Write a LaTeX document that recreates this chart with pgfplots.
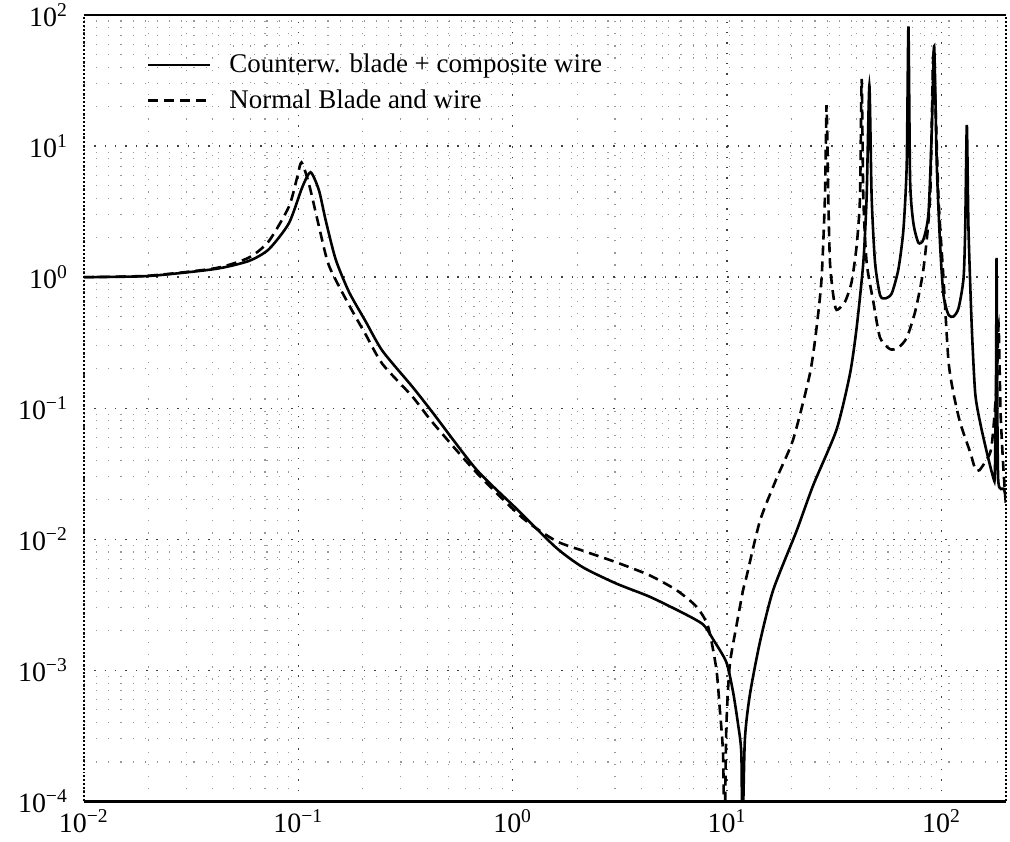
\documentclass[border=0pt]{standalone}
\usepackage{fontspec}
\setmainfont{Liberation Serif}
\usepackage{pgfplots}
\pgfplotsset{compat=1.18}
\begin{document}
\begin{tikzpicture}
\begin{axis}[
  scale only axis,
  width=462pt, height=394pt,
  xmode=log, ymode=log,
  xmin=0.01, xmax=200, ymin=1e-4, ymax=100,
  xtick={0.01,0.1,1,10,100},
  xticklabels={10\textsuperscript{−2},10\textsuperscript{−1},10\textsuperscript{0},10\textsuperscript{1},10\textsuperscript{2}},
  ytick={1e-4,1e-3,1e-2,1e-1,1,10,100},
  yticklabels={10\textsuperscript{−4},10\textsuperscript{−3},10\textsuperscript{−2},10\textsuperscript{−1},10\textsuperscript{0},10\textsuperscript{1},10\textsuperscript{2}},
  minor xtick={0.02,0.03,0.04,0.05,0.06,0.07,0.08,0.09,0.2,0.3,0.4,0.5,0.6,0.7,0.8,0.9,2,3,4,5,6,7,8,9,20,30,40,50,60,70,80,90},
  minor ytick={2e-4,3e-4,4e-4,5e-4,6e-4,7e-4,8e-4,9e-4,2e-3,3e-3,4e-3,5e-3,6e-3,7e-3,8e-3,9e-3,2e-2,3e-2,4e-2,5e-2,6e-2,7e-2,8e-2,9e-2,0.2,0.3,0.4,0.5,0.6,0.7,0.8,0.9,2,3,4,5,6,7,8,9,20,30,40,50,60,70,80,90},
  grid=both,
  major grid style={black!75, line width=0.7pt, dash pattern=on 0.7pt off 4.5pt},
  minor grid style={black!40, line width=0.55pt, dash pattern=on 0.6pt off 5.5pt},
  major tick length=0pt, minor tick length=0pt,
  separate axis lines,
  x axis line style={black, line width=1.2pt},
  y axis line style={black, densely dotted, line width=1pt},
  tick label style={font=\fontsize{14}{14}\selectfont},
  xticklabel style={yshift=-0.5pt},
  yticklabel style={xshift=-4.5pt},
  legend style={at={(axis description cs:0.068,0.956)}, anchor=north west, draw=none, fill=none,
    font=\fontsize{13.5}{16}\selectfont, row sep=3pt, inner sep=0pt},
  legend cell align=left,
  legend image code/.code={\draw[#1] (0pt,0pt) -- (31pt,0pt); \path (38pt,0pt);},
]
\addplot[black, line width=1.3pt, smooth, tension=0.4] coordinates {
(0.01,1.0) (0.02,1.02) (0.0411,1.155) (0.0589,1.33) (0.0729,1.63) (0.0905,2.58)
(0.1045,4.87) (0.1142,6.31) (0.1249,4.60) (0.1341,2.74) (0.1494,1.37) (0.1725,0.771)
(0.2063,0.459) (0.2469,0.274) (0.341,0.1455) (0.4228,0.093) (0.674,0.0344)
(1.036,0.01726) (1.593,0.00865) (2.124,0.00612) (3.039,0.00460) (4.352,0.00365)
(6.23,0.00274) (7.73,0.00224) (8.60,0.00173) (9.92,0.001156) (10.66,0.000688)
(11.26,0.000386) (11.66,0.000230) (11.79,0.00005) (12.10,0.000290) (12.77,0.000649)
(14.22,0.001633) (16.41,0.0041) (21.08,0.01155) (25.23,0.02588) (32.41,0.0687)
(37.44,0.183) (40.20,0.410) (43.20,1.295) (44.77,4.10) (46.10,29.0) (47.24,4.10)
(48.99,1.295) (51.7,0.729) (54.58,0.688) (58.6,0.75) (63.0,1.155) (66.45,2.30)
(68.86,7.28) (70.13,81.6) (71.42,5.47) (73.98,2.58) (78.06,1.83) (82.4,1.94)
(86.98,3.07) (90.1,12.97) (92.45,57.8) (95.06,7.28) (98.6,1.728) (102.2,0.729)
(107.8,0.516) (113.8,0.501) (120.1,0.579) (126.7,0.973) (129.0,2.30) (131.3,14.5)
(133.7,2.30) (138.5,0.410) (143.7,0.1296) (151.6,0.0772) (162.8,0.046) (175.0,0.029)
(177.5,0.032) (179.8,0.2) (180.7,1.4) (181.7,0.2) (184,0.028) (194.9,0.0243) (200,0.021)
};
\addlegendentry{Counterw. blade + composite wire}
\addplot[black, line width=1.3pt, dash pattern=on 5pt off 3pt, smooth, tension=0.4] coordinates {
(0.01,1.0) (0.02,1.025) (0.0411,1.17) (0.0589,1.41) (0.0729,1.88) (0.0905,3.45)
(0.0989,5.79) (0.1036,7.50) (0.1122,5.15) (0.1249,2.44) (0.1391,1.223) (0.1725,0.613)
(0.2063,0.365) (0.2469,0.2176) (0.341,0.1225) (0.4228,0.078) (0.674,0.0326)
(1.113,0.01453) (1.593,0.00972) (2.124,0.00818) (3.039,0.00668) (4.352,0.00531)
(5.80,0.0041) (7.19,0.00307) (8.15,0.00217) (8.91,0.00103) (9.24,0.000516)
(9.58,0.00023) (9.73,0.00005) (9.92,0.000365) (10.29,0.00109) (11.05,0.00217)
(11.88,0.0041) (12.31,0.00515) (14.22,0.01373) (17.0,0.029) (20.34,0.0578)
(24.34,0.183) (26.14,0.410) (27.59,0.973) (28.61,4.10) (29.11,20.5) (29.65,4.10)
(30.2,1.295) (31.28,0.729) (32.41,0.562) (35.48,0.649) (38.09,0.917) (40.2,1.728)
(41.69,4.10) (42.43,32.5) (43.2,4.10) (44.77,1.295) (48.1,0.649) (51.7,0.345)
(57.6,0.282) (63.0,0.290) (68.86,0.345) (75.4,0.546) (82.4,1.155) (88.55,4.10)
(91.76,50) (96.8,4.10) (102.2,0.973) (107.8,0.230) (113.8,0.1296) (122.3,0.0772)
(136.2,0.046) (143.7,0.0344) (150.5,0.0337) (168.9,0.046) (175.0,0.0729)
(181.3,0.163) (184.7,0.434) (188.7,0.0917) (194.9,0.0326) (200,0.0178)
};
\addlegendentry{Normal Blade and wire}
\end{axis}
\pgfresetboundingbox
\path[use as bounding box] (current axis.south west) ++(-42pt,-20pt) rectangle ([shift={(2pt,7.5pt)}]current axis.north east);
\end{tikzpicture}
\end{document}
